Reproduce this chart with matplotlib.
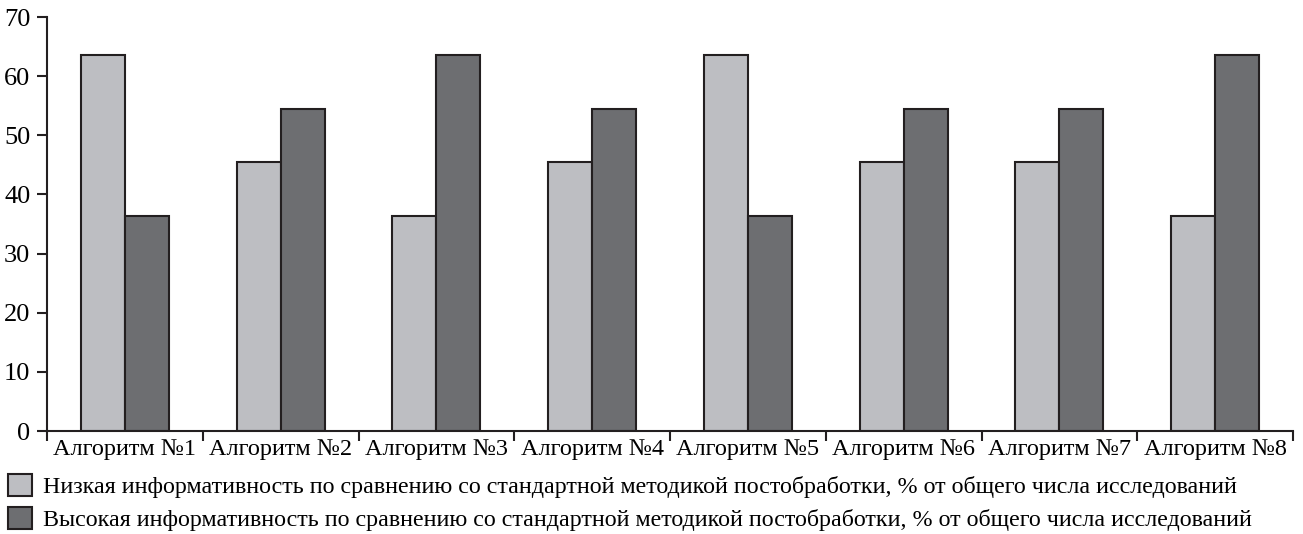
import matplotlib
matplotlib.use("Agg")
import matplotlib.pyplot as plt
from matplotlib.patches import Patch
import numpy as np

categories = ["Алгоритм №1", "Алгоритм №2", "Алгоритм №3", "Алгоритм №4",
              "Алгоритм №5", "Алгоритм №6", "Алгоритм №7", "Алгоритм №8"]
low_vals = [63.6, 45.5, 36.4, 45.5, 63.6, 45.5, 45.5, 36.4]
high_vals = [36.4, 54.5, 63.6, 54.5, 36.4, 54.5, 54.5, 63.6]
series_names = [
    "Низкая информативность по сравнению со стандартной методикой постобработки, % от общего числа исследований",
    "Высокая информативность по сравнению со стандартной методикой постобработки, % от общего числа исследований",
]
yticks = [0, 10, 20, 30, 40, 50, 60, 70]

light = "#bdbec2"
dark = "#6d6e71"
edge = "#231f20"

plt.rcParams['font.family'] = ['Liberation Serif', 'DejaVu Serif']

fig = plt.figure(figsize=(13.03, 5.34), dpi=100)
ax = fig.add_axes([47/1303, 1 - 431/534, (1293-47)/1303, (431-17)/534])

x = np.arange(len(categories)) + 0.5
w = 0.283
ax.bar(x - w/2, low_vals, width=w, color=light, edgecolor=edge, linewidth=1.5)
ax.bar(x + w/2, high_vals, width=w, color=dark, edgecolor=edge, linewidth=1.5)

ax.set_xlim(0, len(categories))
ax.set_ylim(0, 70)
ax.set_yticks(yticks)
ax.set_yticklabels([str(v) for v in yticks], fontsize=19)
ax.set_xticks(np.arange(len(categories) + 1))
ax.set_xticklabels([])
ax.set_xticks(x, minor=True)
ax.set_xticklabels(categories, minor=True, fontsize=17.5)
ax.tick_params(axis='x', which='minor', length=0, pad=6)
ax.tick_params(axis='x', which='major', direction='out', length=7, width=1.5, color=edge)
ax.tick_params(axis='y', direction='out', length=7, width=1.5, color=edge, pad=5)

for s in ['top', 'right']:
    ax.spines[s].set_visible(False)
for s in ['left', 'bottom']:
    ax.spines[s].set_linewidth(1.5)
    ax.spines[s].set_color(edge)

handles = [Patch(facecolor=light, edgecolor=edge, linewidth=1.5),
           Patch(facecolor=dark, edgecolor=edge, linewidth=1.5)]
fig.legend(handles, series_names, loc='upper left', bbox_to_anchor=(0.006, 1 - 474/534),
           frameon=False, fontsize=17.3, handlelength=1.0, handleheight=1.0,
           handletextpad=0.45, labelspacing=0.38, borderpad=0, borderaxespad=0)

fig.savefig("out.png", dpi=100)
